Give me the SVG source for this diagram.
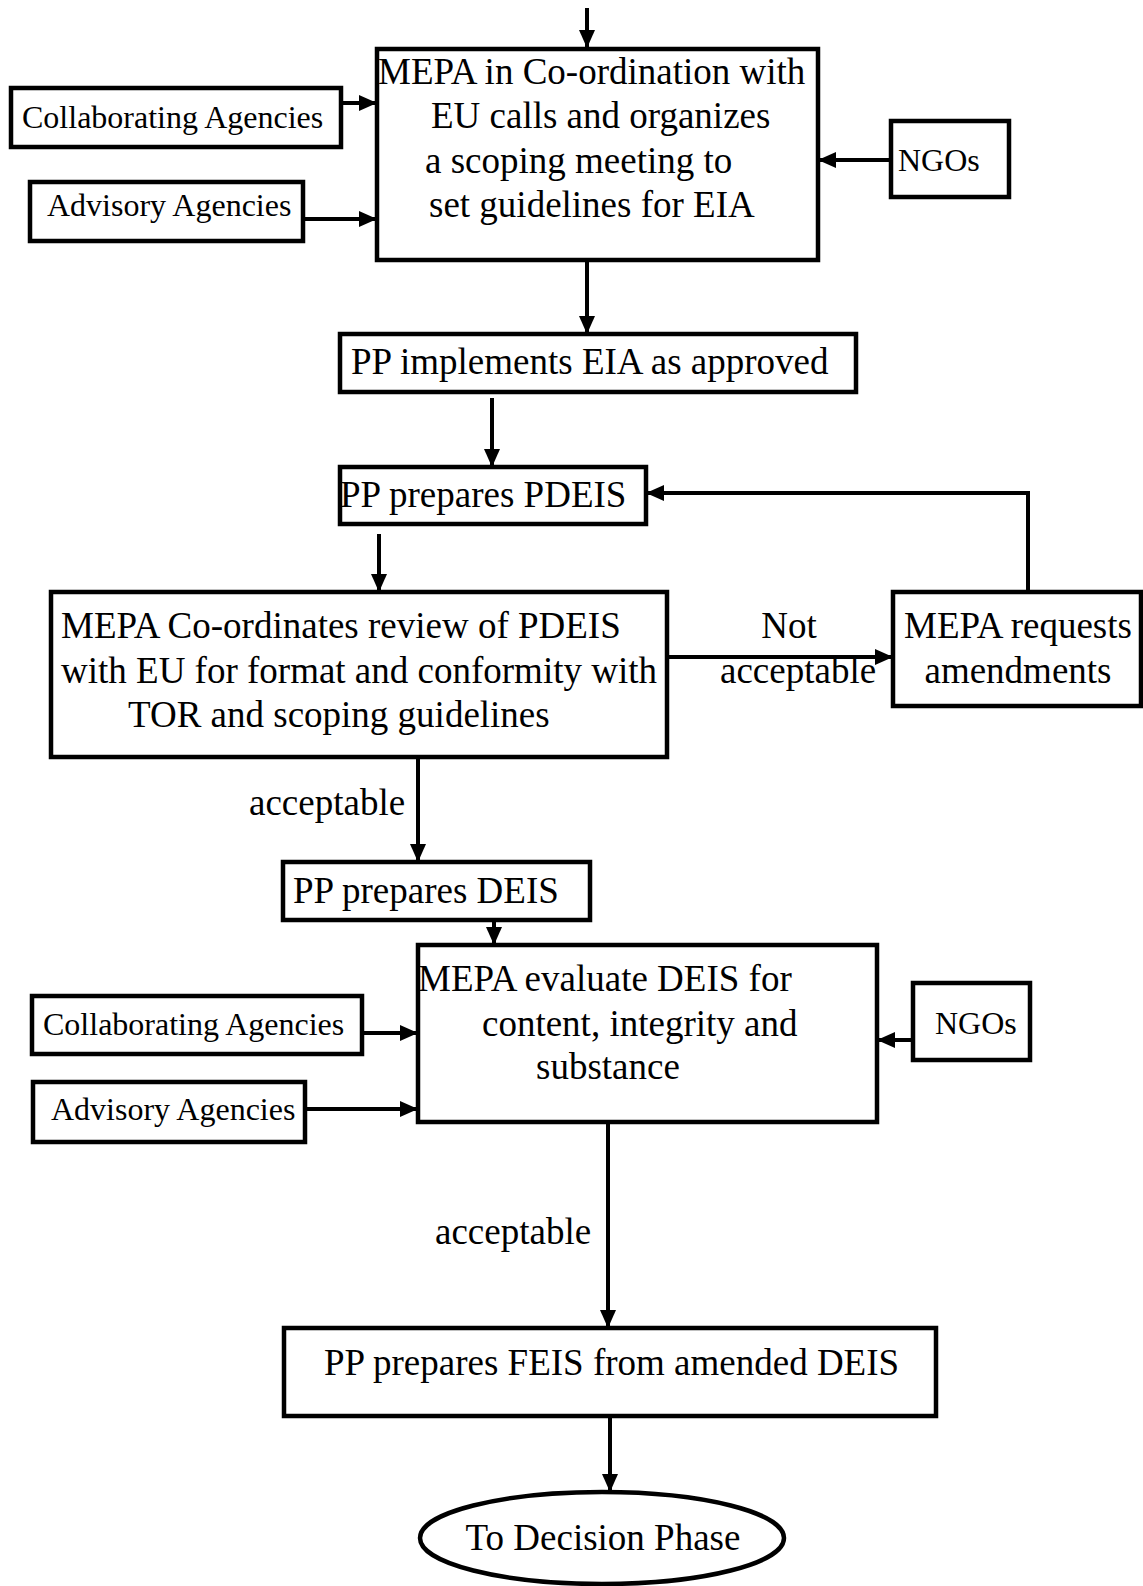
<svg xmlns="http://www.w3.org/2000/svg" width="1143" height="1586" viewBox="0 0 1143 1586">
<defs>
<style>
.box{fill:#fff;stroke:#000;stroke-width:4.5}
.t{font-family:"Liberation Serif","Times New Roman",serif;font-size:37px;fill:#000}
.s{font-family:"Liberation Serif","Times New Roman",serif;font-size:32px;fill:#000}
.c{fill:none;stroke:#000;stroke-width:4}
</style>
<marker id="ah" viewBox="0 0 18 16" refX="17" refY="8" markerWidth="18" markerHeight="16" markerUnits="userSpaceOnUse" orient="auto">
<path d="M0,0 L18,8 L0,16 z" fill="#000"/>
</marker>
</defs>
<rect width="1143" height="1586" fill="#fff"/>
<g id="connectors">
<line class="c" x1="587" y1="8" x2="587" y2="47" marker-end="url(#ah)"/>
<line class="c" x1="341" y1="103" x2="376" y2="103" marker-end="url(#ah)"/>
<line class="c" x1="303" y1="219" x2="376" y2="219" marker-end="url(#ah)"/>
<line class="c" x1="891" y1="160" x2="819" y2="160" marker-end="url(#ah)"/>
<line class="c" x1="587" y1="260" x2="587" y2="333" marker-end="url(#ah)"/>
<line class="c" x1="492" y1="398" x2="492" y2="466" marker-end="url(#ah)"/>
<polyline class="c" points="1028,592 1028,493 647,493" marker-end="url(#ah)"/>
<line class="c" x1="379" y1="534" x2="379" y2="591" marker-end="url(#ah)"/>
<line class="c" x1="667" y1="657" x2="892" y2="657" marker-end="url(#ah)"/>
<line class="c" x1="418" y1="757" x2="418" y2="861" marker-end="url(#ah)"/>
<line class="c" x1="494" y1="920" x2="494" y2="944" marker-end="url(#ah)"/>
<line class="c" x1="362" y1="1033" x2="417" y2="1033" marker-end="url(#ah)"/>
<line class="c" x1="305" y1="1109" x2="417" y2="1109" marker-end="url(#ah)"/>
<line class="c" x1="913" y1="1040" x2="878" y2="1040" marker-end="url(#ah)"/>
<line class="c" x1="608" y1="1122" x2="608" y2="1327" marker-end="url(#ah)"/>
<line class="c" x1="610" y1="1416" x2="610" y2="1491" marker-end="url(#ah)"/>
<text class="t" x="789" y="638" text-anchor="middle">Not</text>
<text class="t" x="720" y="683">acceptable</text>
<text class="t" x="249" y="815">acceptable</text>
<text class="t" x="435" y="1244">acceptable</text>
</g>
<g id="scoping">
<rect class="box" x="377" y="49" width="441" height="211"/>
<text class="t" x="378" y="84">MEPA in Co-ordination with</text>
<text class="t" x="431" y="128">EU calls and organizes</text>
<text class="t" x="425" y="173">a scoping meeting to</text>
<text class="t" x="429" y="217">set guidelines for EIA</text>
</g>
<g id="collab1">
<rect class="box" x="11" y="88" width="330" height="59"/>
<text class="s" x="22" y="128">Collaborating Agencies</text>
</g>
<g id="advisory1">
<rect class="box" x="30" y="182" width="273" height="59"/>
<text class="s" x="47" y="216">Advisory Agencies</text>
</g>
<g id="ngos1">
<rect class="box" x="891" y="121" width="118" height="76"/>
<text class="s" x="898" y="171">NGOs</text>
</g>
<g id="implements">
<rect class="box" x="340" y="334" width="516" height="58"/>
<text class="t" x="351" y="374">PP implements EIA as approved</text>
</g>
<g id="pdeis">
<rect class="box" x="340" y="467" width="306" height="57"/>
<text class="t" x="340" y="507">PP prepares PDEIS</text>
</g>
<g id="review">
<rect class="box" x="51" y="592" width="616" height="165"/>
<text class="t" x="61" y="638">MEPA Co-ordinates review of PDEIS</text>
<text class="t" x="61" y="683">with EU for format and conformity with</text>
<text class="t" x="128" y="727">TOR and scoping guidelines</text>
</g>
<g id="amend">
<rect class="box" x="893" y="592" width="248" height="114"/>
<text class="t" x="1018" y="638" text-anchor="middle">MEPA requests</text>
<text class="t" x="1018" y="683" text-anchor="middle">amendments</text>
</g>
<g id="deis">
<rect class="box" x="283" y="862" width="307" height="58"/>
<text class="t" x="293" y="903">PP prepares DEIS</text>
</g>
<g id="evaluate">
<rect class="box" x="418" y="945" width="459" height="177"/>
<text class="t" x="418" y="991">MEPA evaluate DEIS for</text>
<text class="t" x="482" y="1036">content, integrity and</text>
<text class="t" x="536" y="1079">substance</text>
</g>
<g id="collab2">
<rect class="box" x="32" y="996" width="330" height="58"/>
<text class="s" x="43" y="1035">Collaborating Agencies</text>
</g>
<g id="advisory2">
<rect class="box" x="33" y="1082" width="272" height="60"/>
<text class="s" x="51" y="1120">Advisory Agencies</text>
</g>
<g id="ngos2">
<rect class="box" x="913" y="983" width="117" height="77"/>
<text class="s" x="935" y="1034">NGOs</text>
</g>
<g id="feis">
<rect class="box" x="284" y="1328" width="652" height="88"/>
<text class="t" x="324" y="1375">PP prepares FEIS from amended DEIS</text>
</g>
<g id="decision">
<ellipse class="box" cx="602" cy="1538" rx="182" ry="46"/>
<text class="t" x="603" y="1550" text-anchor="middle">To Decision Phase</text>
</g>
</svg>
